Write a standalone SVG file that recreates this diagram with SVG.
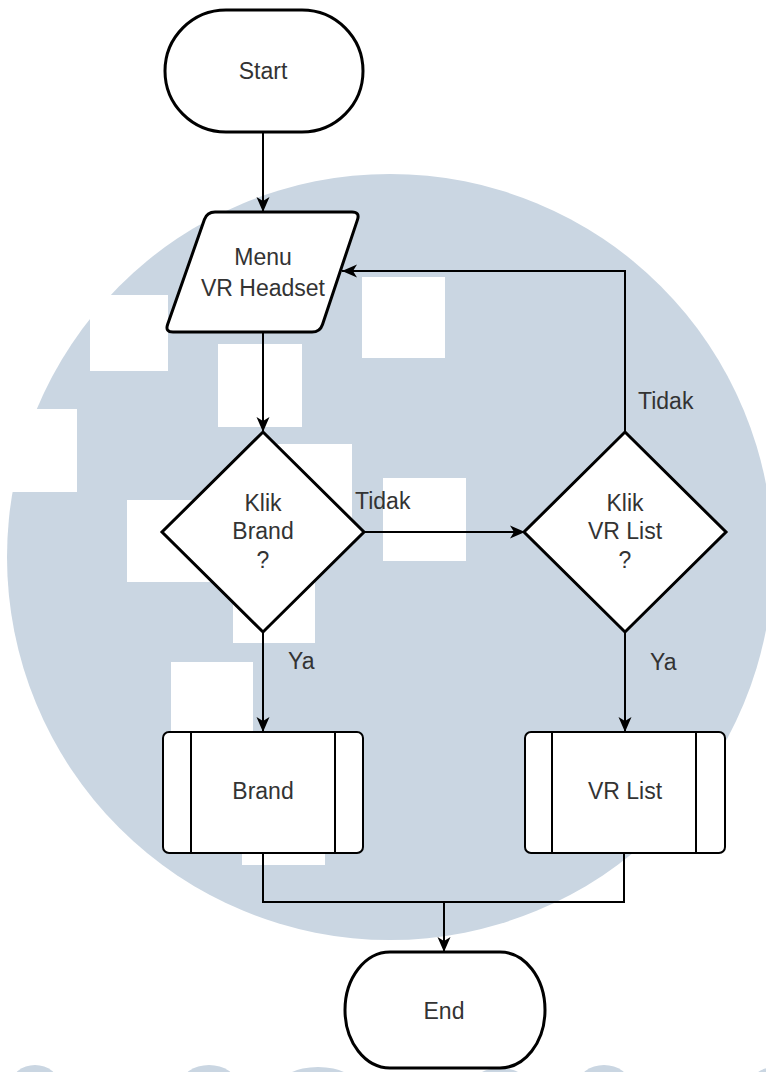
<svg xmlns="http://www.w3.org/2000/svg" width="766" height="1072" viewBox="0 0 766 1072">
<style>
.bg{fill:#cad6e2}
.wh{fill:#ffffff}
.shape{fill:#ffffff;stroke:#000;stroke-width:3}
.thin{fill:none;stroke:#000;stroke-width:2}
.conn{fill:none;stroke:#000;stroke-width:2}
.t{font-family:"Liberation Sans",Arial,sans-serif;font-size:23px;fill:#333;text-anchor:middle;dominant-baseline:central}
.lbl{font-family:"Liberation Sans",Arial,sans-serif;font-size:23px;fill:#333;dominant-baseline:central}
</style>
<defs>
<marker id="arr" markerUnits="userSpaceOnUse" markerWidth="15" markerHeight="15" viewBox="0 0 15 15" refX="15" refY="7.5" orient="auto">
<path d="M0,1 L15,7.5 L0,14 L4,7.5 Z" fill="#000"/>
</marker>
</defs>
<rect width="766" height="1072" fill="#fff"/>
<g id="watermark">
<circle class="bg" cx="390" cy="557" r="383"/>
<rect class="wh" x="90" y="295" width="78" height="76"/>
<rect class="wh" x="218" y="344" width="84" height="83"/>
<rect class="wh" x="362" y="277" width="83" height="81"/>
<rect class="wh" x="0" y="409" width="77" height="83"/>
<rect class="wh" x="270" y="444" width="82" height="80"/>
<rect class="wh" x="127" y="500" width="86" height="82"/>
<rect class="wh" x="383" y="478" width="83" height="83"/>
<rect class="wh" x="233" y="560" width="82" height="83"/>
<rect class="wh" x="171" y="662" width="82" height="72"/>
<rect class="wh" x="242" y="820" width="83" height="45"/>
<ellipse class="bg" cx="35" cy="1085" rx="24" ry="20"/>
<ellipse class="bg" cx="209" cy="1085" rx="28" ry="20"/>
<ellipse class="bg" cx="318" cy="1088" rx="40" ry="21"/>
<ellipse class="bg" cx="500" cy="1088" rx="30" ry="20"/>
<ellipse class="bg" cx="604" cy="1085" rx="26" ry="20"/>
<ellipse class="bg" cx="775" cy="1088" rx="26" ry="21"/>
</g>
<g id="connectors">
<path class="conn" d="M263,132 V212" marker-end="url(#arr)"/>
<path class="conn" d="M263,332 V432" marker-end="url(#arr)"/>
<path class="conn" d="M365,532 H525" marker-end="url(#arr)"/>
<path class="conn" d="M263,632 V732" marker-end="url(#arr)"/>
<path class="conn" d="M625,632 V732" marker-end="url(#arr)"/>
<path class="conn" d="M625,432 V271 H342" marker-end="url(#arr)"/>
<path class="conn" d="M263,853 V902 H444"/>
<path class="conn" d="M624,853 V902 H444 V952" marker-end="url(#arr)"/>
<text class="lbl" x="355" y="501">Tidak</text>
<text class="lbl" x="638" y="401">Tidak</text>
<text class="lbl" x="288" y="661">Ya</text>
<text class="lbl" x="650" y="662">Ya</text>
</g>
<g id="start">
<rect class="shape" x="165" y="10" width="198" height="122" rx="61" ry="61"/>
<text class="t" x="263" y="71">Start</text>
</g>
<g id="menu">
<path class="shape" d="M215,212 L352,212 Q360,212 357.5,219.6 L322.5,324.4 Q320,332 312,332 L173,332 Q165,332 167.6,324.4 L204.4,219.6 Q207,212 215,212 Z"/>
<text class="t" x="263" y="257">Menu</text>
<text class="t" x="263" y="288">VR Headset</text>
</g>
<g id="klikBrand">
<path class="shape" d="M263,432 L364,532 L263,632 L162,532 Z"/>
<text class="t" x="263" y="503">Klik</text>
<text class="t" x="263" y="531">Brand</text>
<text class="t" x="263" y="560">?</text>
</g>
<g id="klikVRList">
<path class="shape" d="M625,432 L726,532 L625,632 L524,532 Z"/>
<text class="t" x="625" y="503">Klik</text>
<text class="t" x="625" y="531">VR List</text>
<text class="t" x="625" y="560">?</text>
</g>
<g id="brand">
<rect x="163" y="732" width="200" height="121" rx="6" fill="#fff" stroke="#000" stroke-width="2"/>
<path class="thin" d="M191,732 V853 M335,732 V853"/>
<text class="t" x="263" y="791">Brand</text>
</g>
<g id="vrList">
<rect x="525" y="732" width="200" height="121" rx="6" fill="#fff" stroke="#000" stroke-width="2"/>
<path class="thin" d="M552,732 V853 M696,732 V853"/>
<text class="t" x="625" y="791">VR List</text>
</g>
<g id="end">
<rect class="shape" x="345" y="952" width="200" height="116" rx="45" ry="58"/>
<text class="t" x="444" y="1011">End</text>
</g>
</svg>
